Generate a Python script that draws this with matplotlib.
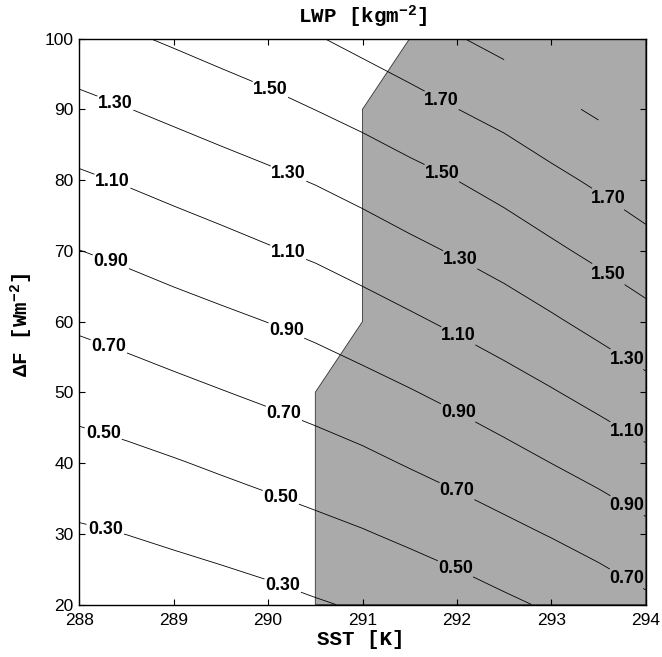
import numpy as np
import matplotlib
matplotlib.use('Agg')
import matplotlib.pyplot as plt

# Grid of the model runs: sea surface temperature and radiative forcing
sst = [288.0, 288.5, 289.0, 289.5, 290.0, 290.5, 291.0, 291.5, 292.0, 292.5, 293.0, 293.5, 294.0]
dF = [20, 30, 40, 50, 60, 70, 80, 90, 100]

# Liquid water path [kg m^-2], one row per forcing value (nan = no run)
nan = np.nan
lwp_20 = [0.132, 0.154, 0.183, 0.212, 0.245, 0.284, 0.321, 0.363, 0.409, 0.467, 0.524, 0.586, 0.660]
lwp_30 = [0.277, 0.302, 0.335, 0.369, 0.405, 0.445, 0.487, 0.536, 0.591, 0.650, 0.711, 0.778, 0.854]
lwp_40 = [0.422, 0.450, 0.487, 0.527, 0.568, 0.611, 0.657, 0.714, 0.771, 0.833, 0.901, 0.970, 1.043]
lwp_50 = [0.572, 0.609, 0.651, 0.693, 0.735, 0.780, 0.832, 0.889, 0.950, 1.018, 1.087, 1.161, 1.241]
lwp_60 = [0.732, 0.772, 0.816, 0.859, 0.903, 0.952, 1.010, 1.071, 1.135, 1.201, 1.275, 1.355, 1.437]
lwp_70 = [0.898, 0.940, 0.988, 1.035, 1.084, 1.131, 1.191, 1.256, 1.318, 1.385, 1.466, 1.545, 1.630]
lwp_80 = [1.071, 1.116, 1.165, 1.213, 1.261, 1.313, 1.374, 1.439, 1.501, 1.574, 1.653, 1.733, 1.817]
lwp_90 = [1.250, 1.295, 1.344, 1.394, 1.444, 1.502, 1.562, 1.629, 1.698, 1.764, 1.849, 1.930, nan]
lwp_100 = [1.426, 1.475, 1.525, 1.577, 1.630, 1.687, 1.754, 1.821, 1.889, 1.958, nan, nan, nan]

levels = [0.3, 0.5, 0.7, 0.9, 1.1, 1.3, 1.5, 1.7, 1.9]

# boundary of the shaded (decoupled) regime
shade_sst = [290.5, 290.5, 291.0, 291.0, 291.5, 294.0, 294.0]
shade_dF = [20, 50, 60, 90, 100, 100, 20]

xticks = [288, 289, 290, 291, 292, 293, 294]
yticks = [20, 30, 40, 50, 60, 70, 80, 90, 100]

# where the contour labels sit
label_pos = [
    (288.27, 30.4), (288.25, 44.0), (288.31, 56.4), (288.33, 68.3), (288.35, 79.8), (288.38, 90.8),
    (290.15, 22.5), (290.13, 35.0), (290.17, 47.1), (290.19, 58.6), (290.21, 69.7), (290.21, 80.7),
    (290.02, 92.7),
    (291.98, 24.9), (292.00, 36.0), (292.01, 47.0), (292.01, 57.85), (292.03, 68.6), (291.84, 80.95),
    (291.84, 91.3),
    (293.79, 23.5), (293.79, 33.7), (293.80, 44.4), (293.80, 54.65), (293.60, 66.6), (293.60, 77.3),
]

plt.rcParams['font.family'] = ['Liberation Sans', 'DejaVu Sans']
plt.rcParams['mathtext.fontset'] = 'custom'
plt.rcParams['mathtext.rm'] = 'Liberation Mono:bold'
plt.rcParams['mathtext.default'] = 'rm'

lwp = np.ma.masked_invalid(np.array([lwp_20, lwp_30, lwp_40, lwp_50, lwp_60,
                                     lwp_70, lwp_80, lwp_90, lwp_100]))

fig = plt.figure(figsize=(6.62, 6.57), dpi=100)
ax = fig.add_axes([0.1198, 0.0799, 0.8556, 0.8615])
ax.set_xlim(288, 294)
ax.set_ylim(20, 100)

ax.fill(shade_sst, shade_dF, facecolor='#aaaaaa', edgecolor='#333333', linewidth=0.6, zorder=1)

cs = ax.contour(sst, dF, lwp, levels=levels, colors='black', linewidths=0.6,
                corner_mask=False, zorder=2)
ax.clabel(cs, levels, manual=label_pos, inline=True, inline_spacing=2,
          fmt='%.2f', fontsize=12.8)
for t in cs.labelTexts:
    t.set_rotation(0)
    t.set_fontweight('bold')

ax.set_xticks(xticks)
ax.set_yticks(yticks)
ax.tick_params(direction='in', length=4, width=0.8, top=True, right=True,
               labelsize=12.5, colors='black')
ax.tick_params(axis='x', pad=6)
ax.tick_params(axis='y', pad=4)
for s in ax.spines.values():
    s.set_linewidth(1.0)

mono = dict(family='Liberation Mono', weight='bold', fontsize=15)
fig.text(362.5 / 662, 1 - 22.7 / 657, 'LWP [kgm$^{-2}$]', ha='center', va='baseline', **mono)
fig.text(361 / 662, 1 - 645 / 657, 'SST [K]', ha='center', va='baseline', **mono)
fig.text(22 / 662, 1 - 325 / 657, '\u0394F [Wm$^{-2}$]', ha='center', va='center',
         rotation=90, **mono)

fig.savefig('out.png', dpi=100)
